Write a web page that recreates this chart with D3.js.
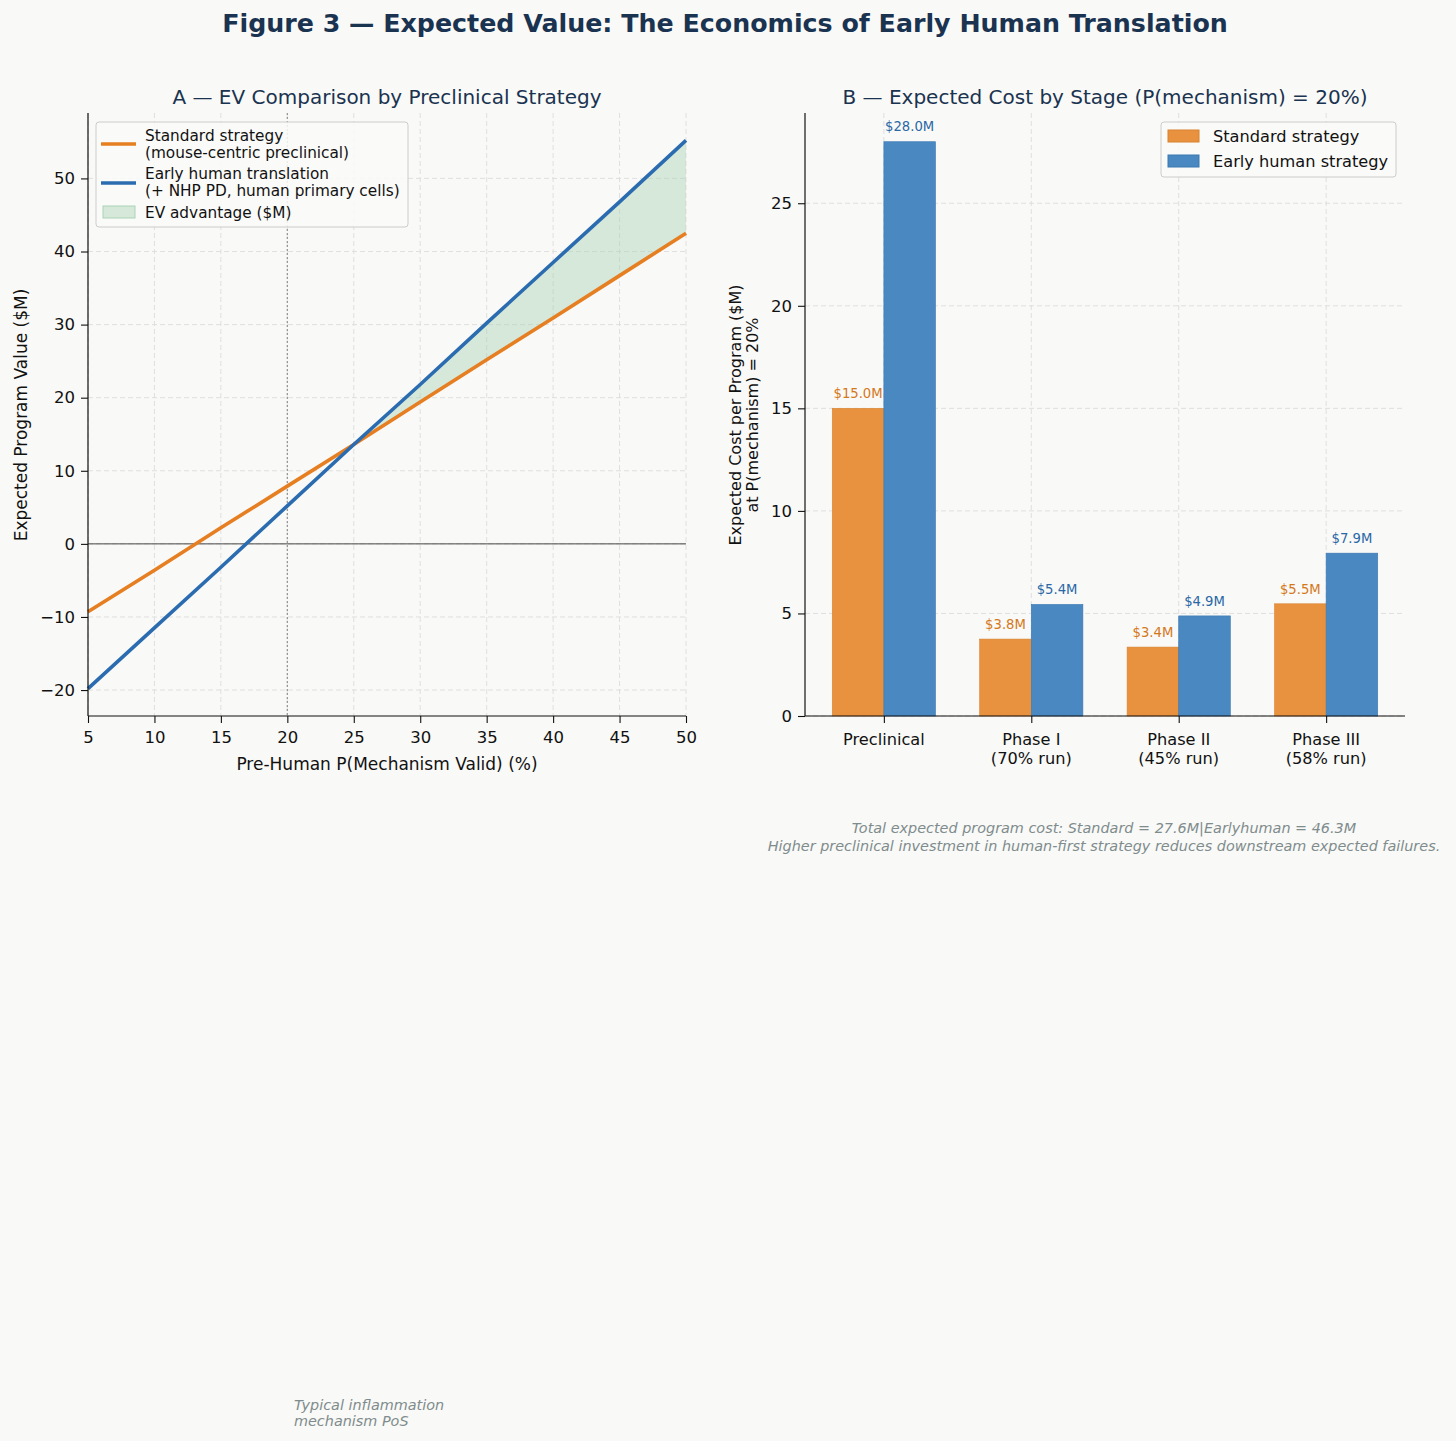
<!DOCTYPE html>
<html><head><meta charset="utf-8">
<script src="https://cdn.jsdelivr.net/npm/d3@7"></script>
<style>
body{margin:0;background:#f9f9f7;}
svg{display:block;font-family:"DejaVu Sans",sans-serif;}
</style></head><body>
<svg id="chart" width="1456" height="1441"></svg>
<script>
// ---- Panel A data ----
const pValues = [5,10,15,20,25,30,35,40,45,50];
const evStandard = [-9.3,-3.6,2.2,7.9,13.6,19.4,25.2,30.9,36.7,42.5];
const evEarly = [-19.8,-11.5,-3.2,5.2,13.6,21.8,30.2,38.5,46.8,55.2];
const xTicksA = [5,10,15,20,25,30,35,40,45,50];
const yTicksA = [-20,-10,0,10,20,30,40,50];
// ---- Panel B data ----
const stages = ["Preclinical","Phase I\n(70% run)","Phase II\n(45% run)","Phase III\n(58% run)"];
const costStandard = [15.0,3.75,3.36,5.47];
const costEarly = [28.0,5.44,4.88,7.94];
const yTicksB = [0,5,10,15,20,25];

const C_OR = "#e67e22", C_BL = "#2b6cb0";
const C_ORBAR = "#e8913f", C_BLBAR = "#4a88c2";
const TICK_FS = 16.5;
const svg = d3.select("#chart");
svg.append("rect").attr("width",1456).attr("height",1441).attr("fill","#f9f9f7");

svg.append("text").attr("x",725).attr("y",32).attr("text-anchor","middle")
  .attr("font-size",25.3).attr("font-weight","bold").attr("fill","#1a3350")
  .text("Figure 3 \u2014 Expected Value: The Economics of Early Human Translation");

// ================= Panel A =================
const xA = d3.scaleLinear().domain([5,50]).range([88,686]);
const yA = d3.scaleLinear().domain([-23.55,58.95]).range([716,113]);
const gA = svg.append("g");
gA.append("text").attr("x",387).attr("y",104).attr("text-anchor","middle")
  .attr("font-size",20).attr("fill","#1a3350").text("A \u2014 EV Comparison by Preclinical Strategy");
// grid
gA.selectAll(".gx").data(xTicksA).enter().append("line")
  .attr("x1",d=>xA(d)).attr("x2",d=>xA(d)).attr("y1",113).attr("y2",716)
  .attr("stroke","#dcdcdc").attr("stroke-dasharray","5,3").attr("stroke-width",0.9);
gA.selectAll(".gy").data(yTicksA).enter().append("line")
  .attr("y1",d=>yA(d)).attr("y2",d=>yA(d)).attr("x1",88).attr("x2",686)
  .attr("stroke","#dcdcdc").attr("stroke-dasharray","5,3").attr("stroke-width",0.9);
// fill between
const pts = pValues.map((p,i)=>({p, s:evStandard[i], e:evEarly[i]}));
gA.append("path").datum(pts)
  .attr("d", d3.area().x(d=>xA(d.p)).y0(d=>yA(d.s)).y1(d=>yA(Math.max(d.s,d.e))))
  .attr("fill","#a9d3b5").attr("fill-opacity",0.45);
// zero line
gA.append("line").attr("x1",88).attr("x2",686).attr("y1",yA(0)).attr("y2",yA(0))
  .attr("stroke","#333").attr("stroke-width",0.9);
// vertical dotted at 20
gA.append("line").attr("x1",xA(20)).attr("x2",xA(20)).attr("y1",113).attr("y2",716)
  .attr("stroke","#999").attr("stroke-dasharray","2,2").attr("stroke-width",1.3);
// lines
const lineGen = key => d3.line().x(d=>xA(d.p)).y(d=>yA(d[key]));
gA.append("path").datum(pts).attr("d",lineGen("s")).attr("fill","none").attr("stroke",C_OR).attr("stroke-width",3.6);
gA.append("path").datum(pts).attr("d",lineGen("e")).attr("fill","none").attr("stroke",C_BL).attr("stroke-width",3.6);
// axes
const axA_x = gA.append("g").attr("transform","translate(0,716)")
  .call(d3.axisBottom(xA).tickValues(xTicksA).tickSize(7).tickPadding(8));
const axA_y = gA.append("g").attr("transform","translate(88,0)")
  .call(d3.axisLeft(yA).tickValues(yTicksA).tickSize(7).tickPadding(6).tickFormat(d=>d<0?"\u2212"+Math.abs(d):d));
[axA_x,axA_y].forEach(a=>{a.attr("font-size",TICK_FS).attr("font-family","DejaVu Sans");
  a.selectAll("text").attr("font-size",TICK_FS).attr("fill","#111");
  a.select(".domain").attr("stroke","#111").attr("stroke-width",1.2);a.selectAll(".tick line").attr("stroke","#111").attr("stroke-width",1.1);});
axA_y.select(".domain").attr("d","M0,113V716");
axA_x.select(".domain").attr("d","M88,0H686");
gA.append("text").attr("x",387).attr("y",770).attr("text-anchor","middle").attr("font-size",17).attr("fill","#111")
  .text("Pre-Human P(Mechanism Valid) (%)");
gA.append("text").attr("transform","translate(27,415) rotate(-90)").attr("text-anchor","middle").attr("font-size",17).attr("fill","#111")
  .text("Expected Program Value ($M)");
// legend A
const lgA = gA.append("g");
lgA.append("rect").attr("x",96).attr("y",122).attr("width",312).attr("height",105).attr("rx",3)
  .attr("fill","#fafaf8").attr("fill-opacity",0.85).attr("stroke","#ccc");
lgA.append("line").attr("x1",101).attr("x2",136).attr("y1",144).attr("y2",144).attr("stroke",C_OR).attr("stroke-width",3.6);
lgA.append("line").attr("x1",101).attr("x2",136).attr("y1",183).attr("y2",183).attr("stroke",C_BL).attr("stroke-width",3.6);
lgA.append("rect").attr("x",103).attr("y",206).attr("width",32).attr("height",12).attr("fill","#a9d3b5").attr("fill-opacity",0.45).attr("stroke","#a9d3b5");
const lgTxt = [["Standard strategy",141],["(mouse-centric preclinical)",158],["Early human translation",179],["(+ NHP PD, human primary cells)",196],["EV advantage ($M)",218]];
lgA.selectAll(".lt").data(lgTxt).enter().append("text").attr("x",145).attr("y",d=>d[1])
  .attr("font-size",15.3).attr("fill","#111").text(d=>d[0]);
// annotation
const ann = gA.append("text").attr("font-size",14.4).attr("font-style","italic").attr("fill","#7f8c8d");
ann.append("tspan").attr("x",294).attr("y",1410).text("Typical inflammation");
ann.append("tspan").attr("x",294).attr("y",1426).text("mechanism PoS");

// ================= Panel B =================
const xB = d3.scaleLinear().domain([-0.535,3.535]).range([805,1405]);
const yB = d3.scaleLinear().domain([0,29.4]).range([716,113]);
const bw = 0.35;
const gB = svg.append("g");
gB.append("text").attr("x",1105).attr("y",104).attr("text-anchor","middle")
  .attr("font-size",20).attr("fill","#1a3350").text("B \u2014 Expected Cost by Stage (P(mechanism) = 20%)");
gB.selectAll(".gx").data(stages).enter().append("line")
  .attr("x1",(d,i)=>xB(i)).attr("x2",(d,i)=>xB(i)).attr("y1",113).attr("y2",716)
  .attr("stroke","#dcdcdc").attr("stroke-dasharray","5,3").attr("stroke-width",0.9);
gB.selectAll(".gy").data(yTicksB).enter().append("line")
  .attr("y1",d=>yB(d)).attr("y2",d=>yB(d)).attr("x1",805).attr("x2",1405)
  .attr("stroke","#dcdcdc").attr("stroke-dasharray","5,3").attr("stroke-width",0.9);
const series = [
  {vals:costStandard, off:-bw/2, fill:C_ORBAR, stroke:"#d9822f", text:"#d4781a"},
  {vals:costEarly, off:bw/2, fill:C_BLBAR, stroke:"#3a78b2", text:"#2a68a6"}];
series.forEach(s=>{
  gB.selectAll(null).data(s.vals).enter().append("rect")
    .attr("x",(d,i)=>xB(i+s.off-bw/2)).attr("width",xB(bw)-xB(0))
    .attr("y",d=>yB(d)).attr("height",d=>yB(0)-yB(d))
    .attr("fill",s.fill).attr("stroke",s.stroke).attr("stroke-width",0.6);
  gB.selectAll(null).data(s.vals).enter().append("text")
    .attr("x",(d,i)=>xB(i+s.off)).attr("y",d=>yB(d+0.5)).attr("text-anchor","middle")
    .attr("font-size",13.2).attr("fill",s.text).text(d=>"$"+d3.format(".1f")(d)+"M");
});
const axB_x = gB.append("g").attr("transform","translate(0,716)")
  .call(d3.axisBottom(xB).tickValues([0,1,2,3]).tickSize(7).tickFormat(""));
const axB_y = gB.append("g").attr("transform","translate(805,0)")
  .call(d3.axisLeft(yB).tickValues(yTicksB).tickSize(7).tickPadding(6));
[axB_x,axB_y].forEach(a=>{a.attr("font-size",TICK_FS).attr("font-family","DejaVu Sans");
  a.selectAll("text").attr("font-size",TICK_FS).attr("fill","#111");
  a.select(".domain").attr("stroke","#111").attr("stroke-width",1.2);a.selectAll(".tick line").attr("stroke","#111").attr("stroke-width",1.1);});
axB_y.select(".domain").attr("d","M0,113V716");
axB_x.select(".domain").attr("d","M805,0H1405");
stages.forEach((s,i)=>{
  const t = gB.append("text").attr("text-anchor","middle").attr("font-size",16.2).attr("fill","#111");
  s.split("\n").forEach((line,j)=>t.append("tspan").attr("x",xB(i)).attr("y",745+j*19).text(line));
});
const yl = gB.append("text").attr("transform","translate(741,415) rotate(-90)").attr("text-anchor","middle").attr("font-size",16).attr("fill","#111");
yl.append("tspan").attr("x",0).attr("y",0).text("Expected Cost per Program ($M)");
yl.append("tspan").attr("x",0).attr("y",17).text("at P(mechanism) = 20%");
// legend B
const lgB = gB.append("g");
lgB.append("rect").attr("x",1161).attr("y",122).attr("width",235).attr("height",55).attr("rx",3)
  .attr("fill","#fafaf8").attr("fill-opacity",0.85).attr("stroke","#ccc");
lgB.append("rect").attr("x",1168).attr("y",130).attr("width",31).attr("height",12).attr("fill",C_ORBAR).attr("stroke","#d9822f");
lgB.append("rect").attr("x",1168).attr("y",155).attr("width",31).attr("height",12).attr("fill",C_BLBAR).attr("stroke","#3a78b2");
lgB.append("text").attr("x",1213).attr("y",142).attr("font-size",16.2).attr("fill","#111").text("Standard strategy");
lgB.append("text").attr("x",1213).attr("y",167).attr("font-size",16.2).attr("fill","#111").text("Early human strategy");
// footnote
const fn = svg.append("text").attr("text-anchor","middle").attr("font-size",14.4).attr("font-style","italic").attr("fill","#7f8c8d");
fn.append("tspan").attr("x",1104).attr("y",833).text("Total expected program cost: Standard = 27.6M|Earlyhuman = 46.3M");
fn.append("tspan").attr("x",1104).attr("y",851).text("Higher preclinical investment in human-first strategy reduces downstream expected failures.");
</script></body></html>
